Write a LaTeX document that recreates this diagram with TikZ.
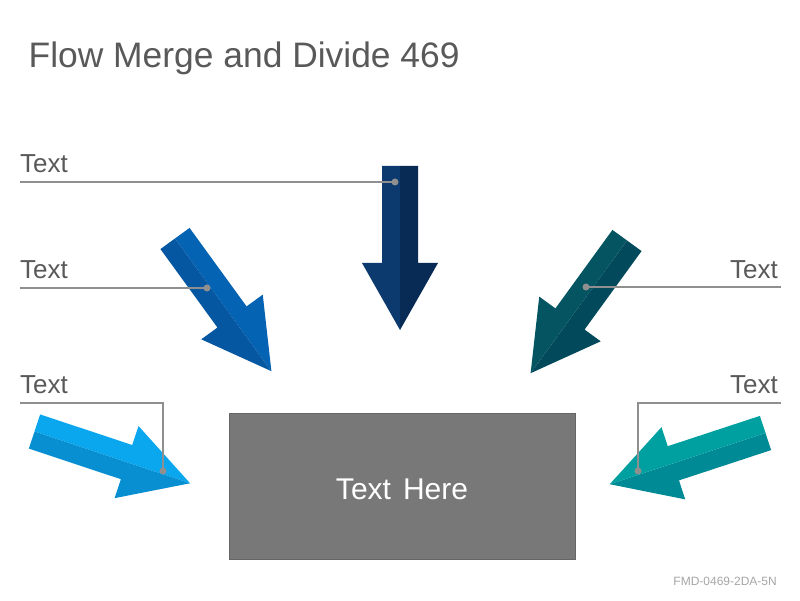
\documentclass[tikz,border=0pt]{standalone}
\usepackage{fontspec}
\setmainfont{Liberation Sans}
\definecolor{titlegray}{HTML}{595959}
\definecolor{leadgray}{HTML}{8F8F8F}
\definecolor{boxgray}{HTML}{787878}
\definecolor{navylight}{HTML}{0C3A6E}
\definecolor{navydark}{HTML}{072B55}
\definecolor{bluelight}{HTML}{0563B3}
\definecolor{bluedark}{HTML}{0557A2}
\definecolor{skylight}{HTML}{0AA7EF}
\definecolor{skydark}{HTML}{078FD1}
\definecolor{petrollight}{HTML}{045561}
\definecolor{petroldark}{HTML}{03495C}
\definecolor{teallight}{HTML}{00A0A1}
\definecolor{tealdark}{HTML}{008A95}
\tikzset{pics/flowarrow/.style 2 args={code={
  \fill[#1] (0,0) -- (0,18) -- (97,18) -- (97,38) -- (164,0) -- cycle;
  \fill[#2] (0,0) -- (0,-18) -- (97,-18) -- (97,-38) -- (164,0) -- cycle;
}}}
\begin{document}
\begin{tikzpicture}[x=1pt,y=1pt]
    \tikzstyle{label}=[inner sep=0pt,text=titlegray,font=\fontsize{26}{30}\selectfont]
    \tikzstyle{lead}=[draw=leadgray,line width=2pt]
    \tikzstyle{dot}=[circle,fill=leadgray,inner sep=0pt,minimum size=7pt]
      \useasboundingbox (0,0) rectangle (800,600);

      \node (title) at (28.5,532) [anchor=base west,inner sep=0pt,text=titlegray,font=\fontsize{35.4}{42}\selectfont] {Flow Merge and Divide 469};
      \node (code) at (777,15) [anchor=base east,inner sep=0pt,text=leadgray!80,font=\fontsize{12}{14}\selectfont] {FMD-0469-2DA-5N};

      % arrows
      \pic (down) [rotate=-90] at (400,434) {flowarrow={navydark}{navylight}};
      \pic (leftin) [rotate=-54] at (175,361.5) {flowarrow={bluelight}{bluedark}};
      \pic (leftlow) [rotate=-18.4] at (34.5,168.5) {flowarrow={skylight}{skydark}};
      \pic (rightin) [rotate=-126] at (627,359.5) {flowarrow={petroldark}{petrollight}};
      \pic (rightlow) [rotate=-161.8] at (765.5,167) {flowarrow={tealdark}{teallight}};

      \node (box) at (402,114) [draw=boxgray!85!black,fill=boxgray,minimum width=346pt,minimum height=146pt] {};
      \node (boxtext) at (402,101) [anchor=base,inner sep=0pt,text=white,font=\fontsize{30}{36}\selectfont] {Text\hspace{0.4em}Here};

      % labels
      \node (t1) at (20,427) [label,anchor=base west] {Text};
      \node (t2) at (20,321) [label,anchor=base west] {Text};
      \node (t3) at (20,206) [label,anchor=base west] {Text};
      \node (t4) at (778,321) [label,anchor=base east] {Text};
      \node (t5) at (778,206) [label,anchor=base east] {Text};

      \coordinate (s1) at (20,418);
      \coordinate (s2) at (20,312);
      \coordinate (s3) at (20,197);
      \coordinate (s4) at (781,313);
      \coordinate (s5) at (781,197);
      \coordinate (k3) at (163,197);
      \coordinate (k5) at (638,197);
      \node (d1) at (395,418) [dot] {};
      \node (d2) at (207,312) [dot] {};
      \node (d3) at (163,129) [dot] {};
      \node (d4) at (586,313) [dot] {};
      \node (d5) at (638,129) [dot] {};

      \path[lead] (s1) -- (d1.center);
      \path[lead] (s2) -- (d2.center);
      \path[lead] (s3) -- (k3) -- (d3.center);
      \path[lead] (s4) -- (d4.center);
      \path[lead] (s5) -- (k5) -- (d5.center);
  \end{tikzpicture}
\end{document}
